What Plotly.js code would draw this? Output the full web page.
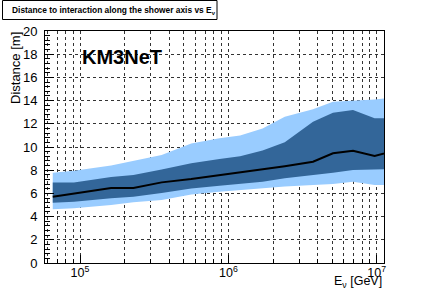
<!DOCTYPE html>
<html>
<head>
<meta charset="utf-8">
<script src="https://cdn.plot.ly/plotly-3.0.1.min.js"></script>
<style>html,body{margin:0;padding:0;background:#fff;}#chart{width:427px;height:292px;}</style>
</head>
<body>
<div id="chart"></div>
<script>
// Neutrino energy (GeV)
const energy = [65500, 91000, 162000, 229000, 355000, 562000, 871000, 1.2e6, 1.7e6, 2.4e6, 3.72e6, 5.07e6, 6.92e6, 9.68e6, 1.35e7];
// Distance to interaction [m]
const median   = [5.72, 5.98, 6.47, 6.47, 6.95, 7.24, 7.57, 7.82, 8.05, 8.35, 8.73, 9.46, 9.68, 9.22, 9.72];
const innerLow = [5.20, 5.27, 5.58, 5.72, 6.03, 6.43, 6.65, 6.80, 7.00, 7.30, 7.55, 7.78, 8.02, 8.02, 8.10];
const innerHigh= [6.95, 6.95, 7.42, 7.58, 8.05, 8.60, 8.97, 9.20, 9.70, 10.4, 12.18, 12.96, 13.19, 12.47, 12.47];
const outerLow = [4.63, 4.72, 5.00, 5.23, 5.43, 5.90, 6.15, 6.30, 6.45, 6.60, 6.72, 6.80, 7.00, 6.72, 6.72];
const outerHigh= [7.79, 7.96, 8.40, 8.77, 9.30, 10.3, 10.75, 11.0, 11.6, 12.6, 13.25, 13.9, 13.99, 14.1, 14.3];

const decadeTicks = [1e5, 1e6, 1e7];
const decadeLabels = ['10<sup>5</sup>', '10<sup>6</sup>', '10<sup>7</sup>'];
const minorTicks = [6e4,7e4,8e4,9e4,2e5,3e5,4e5,5e5,6e5,7e5,8e5,9e5,2e6,3e6,4e6,5e6,6e6,7e6,8e6,9e6];

const lightBlue = '#99CCFF';
const darkBlue = '#336699';
const FONT = 'Liberation Sans, Arial, Helvetica, sans-serif';

const traces = [
  {x: energy, y: outerLow, mode: 'lines', line: {width: 0, color: lightBlue}, hoverinfo: 'skip', showlegend: false},
  {x: energy, y: outerHigh, mode: 'lines', line: {width: 0, color: lightBlue}, fill: 'tonexty', fillcolor: lightBlue, showlegend: false},
  {x: energy, y: innerLow, mode: 'lines', line: {width: 0, color: darkBlue}, hoverinfo: 'skip', showlegend: false},
  {x: energy, y: innerHigh, mode: 'lines', line: {width: 0, color: darkBlue}, fill: 'tonexty', fillcolor: darkBlue, showlegend: false},
  {x: energy, y: median, mode: 'lines', line: {width: 2, color: '#000'}, showlegend: false}
];

const L = 45, R = 384, T = 31, B = 263;
const W = 427, H = 292;
const px = v => (v - L) / (R - L);
const py = v => (B - v) / (B - T);

const layout = {
  width: W, height: H,
  margin: {l: L, r: W - R, t: T, b: H - B, pad: 0},
  paper_bgcolor: '#fff', plot_bgcolor: '#fff',
  font: {family: FONT, color: '#000', size: 13},
  showlegend: false,
  xaxis: {
    type: 'log', range: [4.764, 7.049],
    tickmode: 'array', tickvals: decadeTicks, ticktext: decadeLabels,
    ticks: 'inside', ticklen: 8, tickcolor: '#000', tickwidth: 1,
    showgrid: true, gridcolor: '#333', griddash: 'dot', gridwidth: 1,
    minor: {tickmode: 'array', tickvals: minorTicks, ticks: 'inside', ticklen: 4, tickcolor: '#000',
            showgrid: true, gridcolor: '#333', griddash: 'dot', gridwidth: 1},
    showline: true, linecolor: '#000', linewidth: 1, mirror: true,
    tickfont: {size: 12.5, family: FONT}, ticklabelstandoff: -2, zeroline: false
  },
  yaxis: {
    range: [0, 20], dtick: 2, tick0: 0,
    ticks: 'inside', ticklen: 9, tickcolor: '#000', tickwidth: 1,
    showgrid: true, gridcolor: '#333', griddash: 'dot', gridwidth: 1,
    minor: {dtick: 0.4, ticks: 'inside', ticklen: 5, tickcolor: '#000', showgrid: false},
    showline: true, linecolor: '#000', linewidth: 1, mirror: true,
    tickfont: {size: 13, family: FONT}, ticklabelstandoff: 4, zeroline: false
  },
  shapes: [
    {type: 'rect', xref: 'paper', yref: 'paper', x0: px(2.5), x1: px(217), y0: py(19.5), y1: py(0.5),
     line: {color: '#000', width: 1}, fillcolor: '#fff', layer: 'above'}
  ],
  annotations: [
    {text: 'Distance to interaction along the shower axis vs E<sub>ν</sub>', xref: 'paper', yref: 'paper',
     x: px(10), y: py(10), xanchor: 'left', yanchor: 'middle', showarrow: false,
     font: {family: FONT, size: 8.4, weight: 'bold', color: '#000'}},
    {text: 'KM3NeT', xref: 'paper', yref: 'paper', x: px(80), y: py(57), xanchor: 'left', yanchor: 'middle',
     showarrow: false, font: {family: FONT, size: 20, weight: 'bold', color: '#000'}},
    {text: 'Distance [m]', xref: 'paper', yref: 'paper', x: px(16), y: py(30), xanchor: 'center', yanchor: 'top',
     textangle: -90, showarrow: false, font: {family: FONT, size: 13, color: '#000'}},
    {text: 'E<sub>ν</sub> [GeV]', xref: 'paper', yref: 'paper', x: 1, y: py(292), xanchor: 'right', yanchor: 'bottom',
     showarrow: false, font: {family: FONT, size: 12.5, color: '#000'}}
  ]
};

Plotly.newPlot('chart', traces, layout, {staticPlot: true, displayModeBar: false});
</script>
</body>
</html>
